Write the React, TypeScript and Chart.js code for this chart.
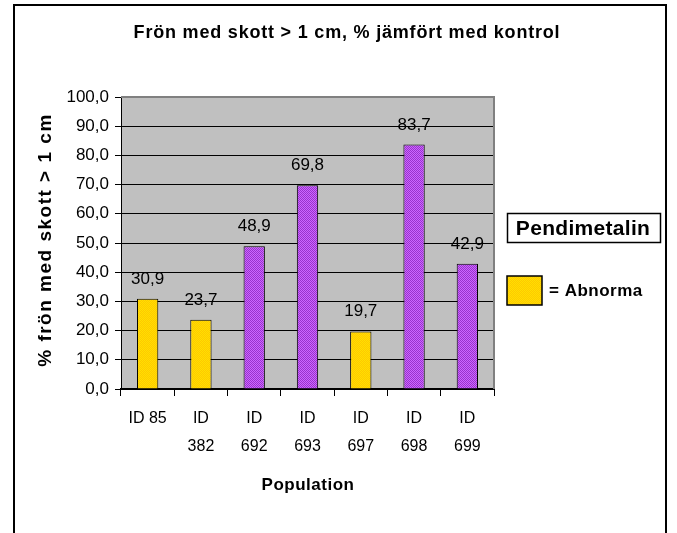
import React, { useEffect, useRef } from "react";
import { Chart, registerables } from "chart.js";

Chart.register(...registerables);

const categories: string[][] = [["ID 85"], ["ID", "382"], ["ID", "692"], ["ID", "693"], ["ID", "697"], ["ID", "698"], ["ID", "699"]];
const values: number[] = [30.9, 23.7, 48.9, 69.8, 19.7, 83.7, 42.9];
const abnormal: boolean[] = [true, true, false, false, true, false, false];
const yTickValues: number[] = [0, 10, 20, 30, 40, 50, 60, 70, 80, 90, 100];

const titleText = "Frön med skott > 1 cm, % jämfört med kontrol";
const yTitleText = "% frön med skott > 1 cm";
const xTitleText = "Population";
const legendTitle = "Pendimetalin";
const legendItem = "= Abnorma";

const FONT = "'Liberation Sans', Arial, sans-serif";

function makePattern(c1: string, c2: string): CanvasPattern | string {
  const pc = document.createElement("canvas");
  pc.width = 2;
  pc.height = 2;
  const p = pc.getContext("2d");
  if (!p) return c1;
  p.fillStyle = c1;
  p.fillRect(0, 0, 2, 2);
  p.fillStyle = c2;
  p.fillRect(0, 0, 1, 1);
  p.fillRect(1, 1, 1, 1);
  const ctx = document.createElement("canvas").getContext("2d");
  return (ctx && ctx.createPattern(pc, "repeat")) || c1;
}

const fmt = (v: number) => v.toFixed(1).replace(".", ",");

export default function App() {
  const ref = useRef<HTMLCanvasElement | null>(null);

  useEffect(() => {
    if (!ref.current) return;
    const yellow = makePattern("#FFC800", "#FFE000");
    const purple = makePattern("#CC66FF", "#9933CC");

    const decor = {
      id: "decor",
      beforeDraw(chart: any) {
        const { ctx, chartArea } = chart;
        ctx.save();
        ctx.fillStyle = "#ffffff";
        ctx.fillRect(0, 0, chart.width, chart.height);
        ctx.strokeStyle = "#000";
        ctx.lineWidth = 2;
        ctx.strokeRect(14, 5, 652, 540);
        ctx.fillStyle = "#C0C0C0";
        ctx.fillRect(chartArea.left, chartArea.top, chartArea.right - chartArea.left, chartArea.bottom - chartArea.top);
        ctx.restore();
      },
      afterDatasetsDraw(chart: any) {
        const { ctx } = chart;
        const meta = chart.getDatasetMeta(0);
        ctx.save();
        ctx.fillStyle = "#000";
        ctx.font = `17px ${FONT}`;
        ctx.textAlign = "center";
        ctx.textBaseline = "alphabetic";
        meta.data.forEach((bar: any, i: number) => {
          ctx.fillText(fmt(values[i]), bar.x, bar.y - 15);
        });
        ctx.restore();
      },
      afterDraw(chart: any) {
        const { ctx, chartArea } = chart;
        ctx.save();
        ctx.strokeStyle = "#808080";
        ctx.lineWidth = 2;
        ctx.beginPath();
        ctx.moveTo(chartArea.left, chartArea.top);
        ctx.lineTo(chartArea.right, chartArea.top);
        ctx.lineTo(chartArea.right, chartArea.bottom);
        ctx.stroke();

        ctx.fillStyle = "#000";
        ctx.font = `bold 18px ${FONT}`;
        (ctx as any).letterSpacing = "0.8px";
        ctx.textAlign = "center";
        ctx.textBaseline = "middle";
        ctx.fillText(titleText, 347, 33);

        (ctx as any).letterSpacing = "0.5px";
        ctx.font = `bold 17px ${FONT}`;
        ctx.fillText(xTitleText, 308, 485);

        ctx.save();
        ctx.translate(46, 240);
        ctx.rotate(-Math.PI / 2);
        (ctx as any).letterSpacing = "1.5px";
        ctx.font = `bold 19px ${FONT}`;
        ctx.fillText(yTitleText, 0, 0);
        ctx.restore();

        (ctx as any).letterSpacing = "0.3px";
        ctx.lineWidth = 1.5;
        ctx.strokeStyle = "#000";
        ctx.strokeRect(507.5, 213.5, 153, 29);
        ctx.font = `bold 21px ${FONT}`;
        ctx.fillText(legendTitle, 583, 229);

        ctx.fillStyle = yellow as any;
        ctx.fillRect(507, 276, 35, 29);
        ctx.lineWidth = 1.5;
        ctx.strokeRect(507, 276, 35, 29);
        ctx.fillStyle = "#000";
        ctx.textAlign = "left";
        (ctx as any).letterSpacing = "0.5px";
        ctx.font = `bold 17px ${FONT}`;
        ctx.fillText(legendItem, 549, 291);
        ctx.restore();
      },
    };

    const chart = new Chart(ref.current, {
      type: "bar",
      data: {
        labels: categories,
        datasets: [
          {
            data: values,
            backgroundColor: abnormal.map((a) => (a ? yellow : purple)) as any,
            borderColor: "#000",
            borderWidth: 1,
            barPercentage: 0.4,
            categoryPercentage: 1,
          },
        ],
      },
      options: {
        responsive: false,
        animation: false,
        devicePixelRatio: 1,
        layout: { padding: { top: 97, right: 183, left: 0, bottom: 0 } },
        plugins: { legend: { display: false }, tooltip: { enabled: false }, title: { display: false } },
        scales: {
          x: {
            grid: { display: true, drawOnChartArea: false, drawTicks: true, tickLength: 7, color: "#000", offset: true },
            border: { display: true, color: "#000", width: 2 },
            ticks: {
              color: "#000",
              font: { family: FONT, size: 16, lineHeight: 1.75 },
              padding: 9,
              maxRotation: 0,
              autoSkip: false,
            },
            afterFit: (s: any) => {
              s.height = 144;
            },
          },
          y: {
            min: 0,
            max: 100,
            afterBuildTicks: (s: any) => {
              s.ticks = yTickValues.map((v) => ({ value: v }));
            },
            ticks: {
              color: "#000",
              font: { family: FONT, size: 17 },
              padding: 6,
              callback: (v: any) => fmt(Number(v)),
            },
            grid: { color: "#000", lineWidth: 1, tickLength: 6 },
            border: { display: true, color: "#000", width: 1 },
            afterFit: (s: any) => {
              s.width = 121;
            },
          },
        },
      },
      plugins: [decor],
    });
    return () => chart.destroy();
  }, []);

  return (
    <div style={{ position: "absolute", left: 0, top: 0, width: 677, height: 533 }}>
      <canvas ref={ref} width={677} height={533} style={{ display: "block" }} />
    </div>
  );
}
